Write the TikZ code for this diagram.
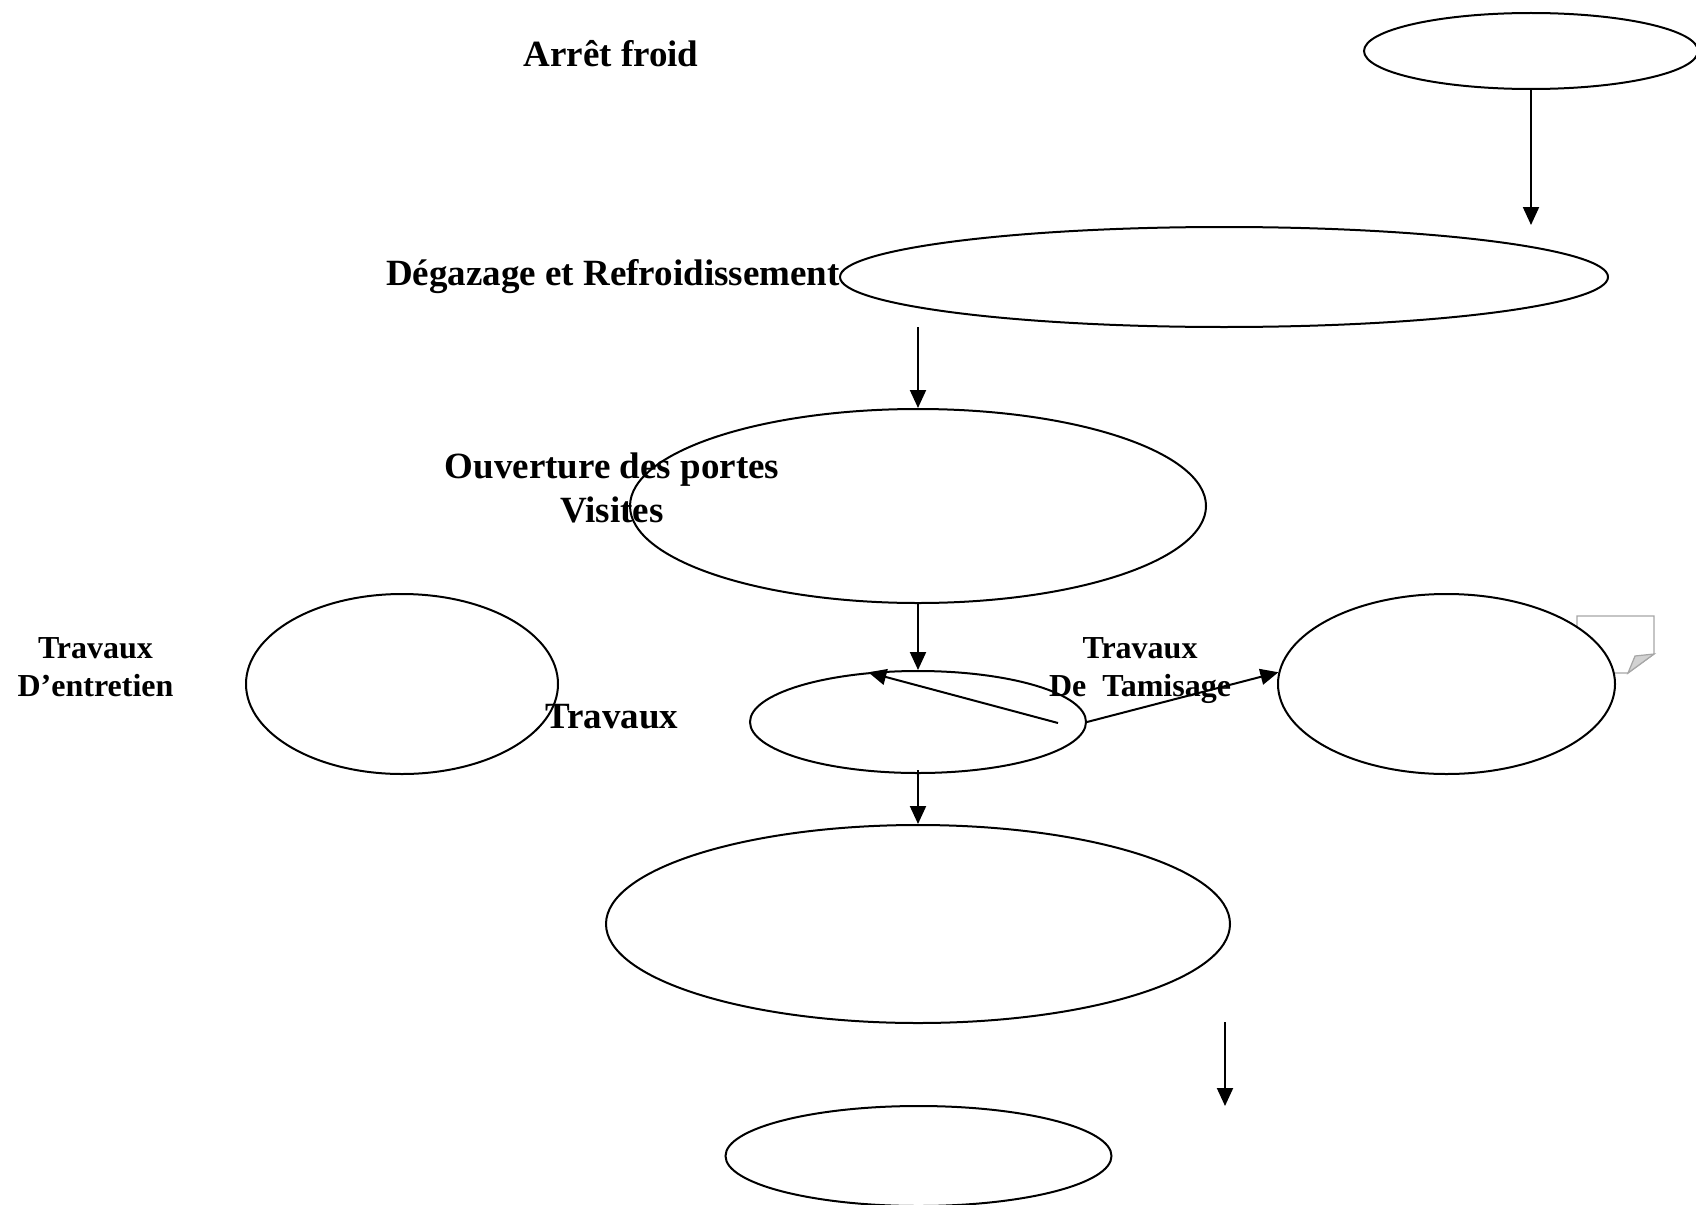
\documentclass[tikz,border=0pt]{standalone}
\usepackage{fontspec}
\setmainfont{Liberation Serif}
\usetikzlibrary{shapes.geometric,arrows.meta}
\begin{document}
\begin{tikzpicture}[x=1pt,y=-1pt,
  oval/.style={draw,ellipse,inner sep=0pt,line width=2pt},
  link/.style={line width=2pt,-{Triangle[length=18pt,width=16pt]}},
  big/.style={font=\fontsize{37}{44}\selectfont\bfseries,inner sep=0pt,anchor=base,align=center},
  small/.style={font=\fontsize{32}{38}\selectfont\bfseries,inner sep=0pt,anchor=base,align=center},
  note/.style={draw=gray!70,line width=1.2pt,fill=white}]
\useasboundingbox (0,0) rectangle (1696,1204);

% small folded note behind the right-hand oval
\draw[note] (1577,616) -- (1654,616) -- (1654,654) -- (1628,673) -- (1577,673) -- cycle;
\draw[note,fill=gray!35] (1654,654) -- (1635,656) -- (1628,673) -- cycle;

% ovals
\node[oval,minimum width=334pt,minimum height=76pt]  (e1) at (1531,51)  {};
\node[oval,minimum width=768pt,minimum height=100pt] (e2) at (1224,277) {};
\node[oval,minimum width=576pt,minimum height=194pt] (e3) at (918,506)  {};
\node[oval,minimum width=336pt,minimum height=102pt] (e4) at (918,722)  {};
\node[oval,minimum width=312pt,minimum height=180pt] (el) at (402,684)  {};
\node[oval,fill=white,minimum width=337pt,minimum height=180pt] (er) at (1446.5,684) {};
\node[oval,minimum width=624pt,minimum height=198pt] (e5) at (918,924)  {};
\node[oval,minimum width=386pt,minimum height=100pt] (e6) at (918.5,1156) {};

% labels (base anchor sits on the last line)
\node[big] (t1) at (611,67)  {Arrêt froid};
\node[big] (t2) at (613,285) {Dégazage et Refroidissement};
\node[big] (t3) at (612,522) {Ouverture des portes\\Visites};
\node[big] (t4) at (612,728) {Travaux};
\node[small] (t5) at (95.5,696) {Travaux\\D’entretien};
\node[small] (t6) at (1140,696) {Travaux\\De\ \ Tamisage};

% free arrow ends
\coordinate (c1) at (1531,225);
\coordinate (c2) at (918,327);
\coordinate (c4) at (918,770);
\coordinate (c5a) at (1225,1022);
\coordinate (c5b) at (1225,1106);
\coordinate (c6) at (1058,723);

% connectors
\draw[link] (e1.south) -- (c1);
\draw[link] (c2) -- (e3.north);
\draw[link] (e3.south) -- (e4.north);
\draw[link] (c4) -- (e5.north);
\draw[link] (c5a) -- (c5b);
\draw[link] (c6) -- (e4.135.6);
\draw[link] (e4.east) -- (er.176);
\end{tikzpicture}
\end{document}
